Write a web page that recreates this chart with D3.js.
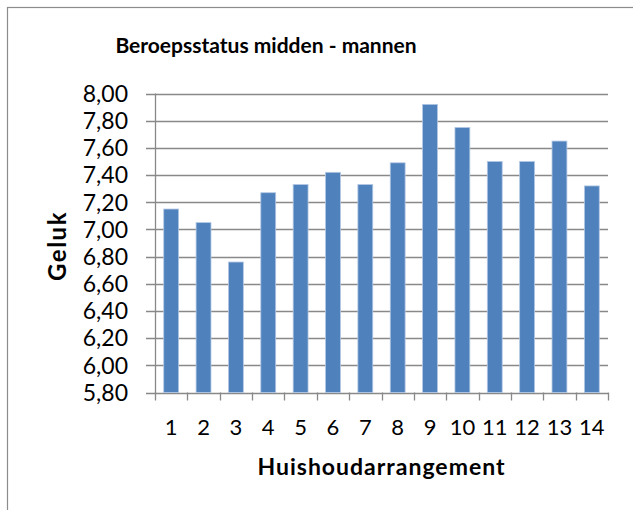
<!DOCTYPE html>
<html><head><meta charset="utf-8">
<script src="https://cdn.jsdelivr.net/npm/d3@7"></script>
<style>
html,body{margin:0;padding:0;background:#fff;}
text{font-family:Lato,"Open Sans",sans-serif;fill:#000;}
</style></head>
<body><svg id="c" width="633" height="510"></svg>
<script>
const categories = ["1","2","3","4","5","6","7","8","9","10","11","12","13","14"];
const values = [7.15,7.05,6.76,7.27,7.33,7.42,7.33,7.49,7.92,7.75,7.50,7.50,7.65,7.32];
const yTicks = [5.8,6.0,6.2,6.4,6.6,6.8,7.0,7.2,7.4,7.6,7.8,8.0];
const title = "Beroepsstatus midden - mannen";
const xTitle = "Huishoudarrangement";
const yTitle = "Geluk";

const svg = d3.select("#c");
svg.append("rect").attr("width",633).attr("height",510).attr("fill","#fff");
svg.append("rect").attr("x",7.5).attr("y",7.5).attr("width",700).attr("height",600)
  .attr("fill","none").attr("stroke","#8c8c8c").attr("stroke-width",1.2);

const L=155, R=608, T=93.5, B=392.5;
const x = d3.scaleBand().domain(categories).range([L,R]).padding(0);
const y = d3.scaleLinear().domain([5.8,8.0]).range([B,T]);
const loc = d3.formatLocale({decimal:",",thousands:".",grouping:[3],currency:["","€"]});
const fmt = loc.format(".2f");
const grid = "#898989";

svg.append("g").selectAll("line").data(yTicks).join("line")
  .attr("x1",L-9).attr("x2",R).attr("y1",d=>Math.round(y(d))+0.5).attr("y2",d=>Math.round(y(d))+0.5)
  .attr("stroke",grid).attr("stroke-width",1.3);

svg.append("line").attr("x1",L+0.5).attr("x2",L+0.5).attr("y1",T).attr("y2",B+0.5)
  .attr("stroke",grid).attr("stroke-width",1.3);

const bounds = categories.map(c=>x(c)).concat([R]);
svg.append("g").selectAll("line").data(bounds).join("line")
  .attr("x1",d=>Math.round(d)+0.5).attr("x2",d=>Math.round(d)+0.5)
  .attr("y1",B).attr("y2",B+8).attr("stroke",grid).attr("stroke-width",1.3);

const bw = x.bandwidth()*0.46;
svg.append("g").selectAll("rect").data(values).join("rect")
  .attr("x",(d,i)=>x(categories[i])+x.bandwidth()/2-bw/2)
  .attr("y",d=>y(d))
  .attr("width",bw)
  .attr("height",d=>B-y(d))
  .attr("fill","#4F81BD")
  .attr("stroke","#b3c8e4").attr("stroke-width",0.8);

svg.append("g").selectAll("text").data(yTicks).join("text")
  .attr("x",128).attr("y",d=>y(d)).attr("dy","0.36em")
  .attr("text-anchor","end").attr("font-size",23).text(d=>fmt(d));

svg.append("g").selectAll("text").data(categories).join("text")
  .attr("x",d=>x(d)+x.bandwidth()/2).attr("y",435)
  .attr("text-anchor","middle").attr("font-size",22).text(d=>d);

svg.append("text").attr("x",266).attr("y",53).attr("text-anchor","middle")
  .attr("font-size",21).attr("font-weight","bold").text(title);
svg.append("text").attr("x",(L+R)/2).attr("y",475).attr("text-anchor","middle")
  .attr("font-size",23).attr("letter-spacing",1).attr("font-weight","bold").text(xTitle);
svg.append("text").attr("transform",`translate(66,${(T+B)/2+3}) rotate(-90)`)
  .attr("text-anchor","middle").attr("font-size",24).attr("letter-spacing",1.5).attr("font-weight","bold").text(yTitle);
</script></body></html>
